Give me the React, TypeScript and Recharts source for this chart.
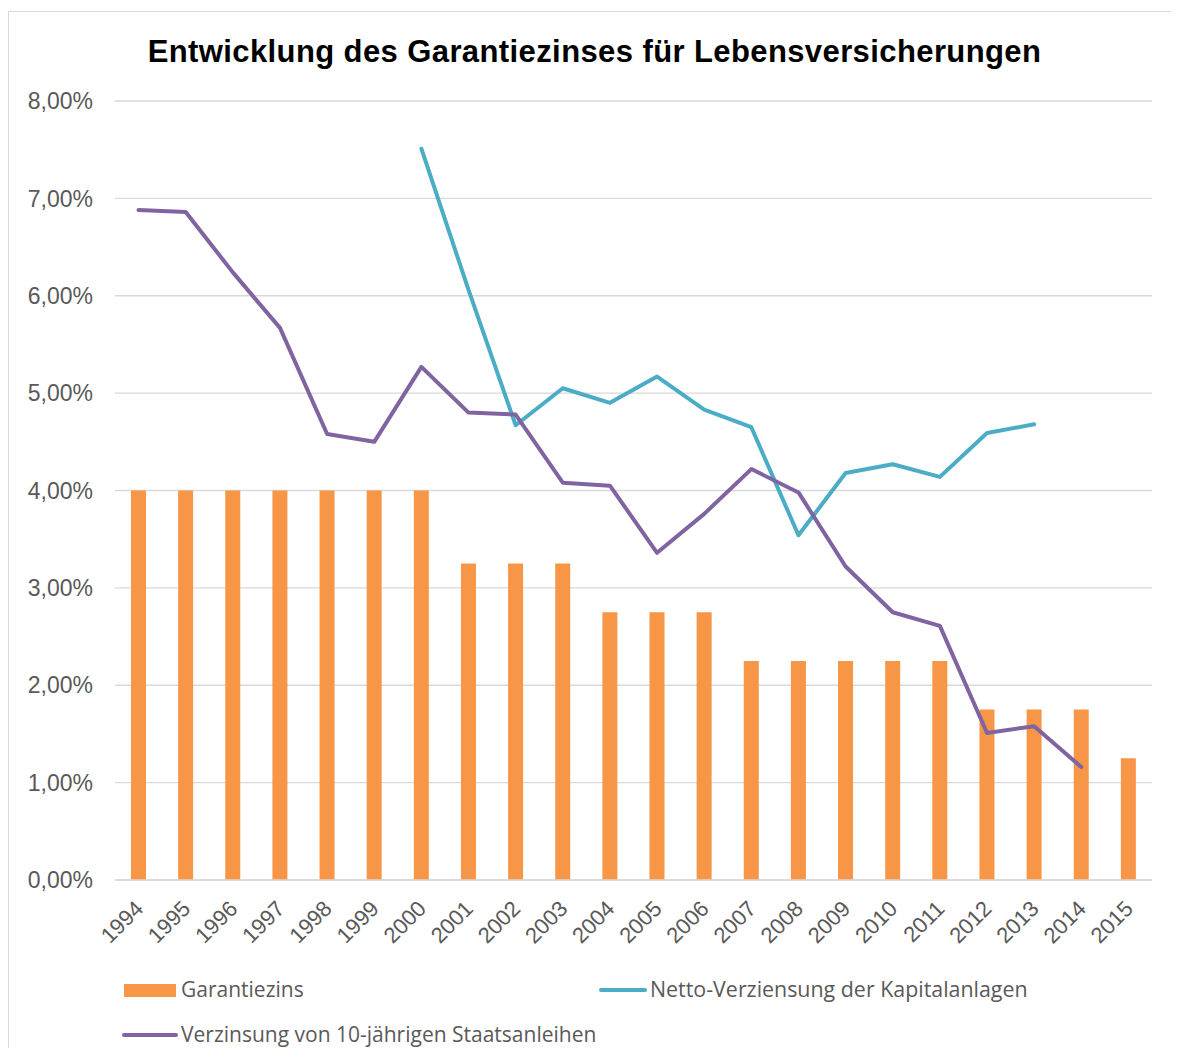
import React from 'react';
import { ComposedChart, Bar, Line, XAxis, YAxis, CartesianGrid, Legend } from 'recharts';

const years = ['1994','1995','1996','1997','1998','1999','2000','2001','2002','2003','2004','2005','2006','2007','2008','2009','2010','2011','2012','2013','2014','2015'];
const garantiezins = [4, 4, 4, 4, 4, 4, 4, 3.25, 3.25, 3.25, 2.75, 2.75, 2.75, 2.25, 2.25, 2.25, 2.25, 2.25, 1.75, 1.75, 1.75, 1.25];
const nettoVerzinsung: (number | null)[] = [null, null, null, null, null, null, 7.51, 6.06, 4.67, 5.05, 4.9, 5.17, 4.83, 4.65, 3.54, 4.18, 4.27, 4.14, 4.59, 4.68, null, null];
const staatsanleihen: (number | null)[] = [6.88, 6.86, 6.24, 5.67, 4.58, 4.5, 5.27, 4.8, 4.78, 4.08, 4.05, 3.36, 3.76, 4.22, 3.98, 3.22, 2.75, 2.61, 1.51, 1.58, 1.16, null];
const yTicks = [0, 1, 2, 3, 4, 5, 6, 7, 8];

const title = 'Entwicklung des Garantiezinses für Lebensversicherungen';
const seriesNames = {
  g: 'Garantiezins',
  n: 'Netto-Verziensung der Kapitalanlagen',
  s: 'Verzinsung von 10-jährigen Staatsanleihen',
};

const data = years.map((y, i) => ({
  year: y,
  g: garantiezins[i],
  n: nettoVerzinsung[i],
  s: staatsanleihen[i],
}));

const ORANGE = '#F79646';
const TEAL = '#4BACC6';
const PURPLE = '#8064A2';
const TEXT = '#595959';
const ARIAL = "'Liberation Sans', Arial, sans-serif";

const fmt = (v: number) => v.toFixed(2).replace('.', ',') + '%';

const XTick = (props: any) => {
  const { x, y, payload } = props;
  const ax = x + 6;
  const ay = y + 22;
  return (
    <text x={ax} y={ay} textAnchor="end" fill={TEXT} fontSize={22} fontFamily={ARIAL} transform={`rotate(-45, ${ax}, ${ay})`}>
      {payload.value}
    </text>
  );
};

const legendFont = "'Open Sans', sans-serif";

const LegendContent = () => {
  const textStyle: React.CSSProperties = { position: 'absolute', fontFamily: legendFont, fontSize: 21, color: TEXT, whiteSpace: 'nowrap', lineHeight: '24px' };
  return (
    <div style={{ position: 'relative', width: 1160, height: 80 }}>
      <div style={{ position: 'absolute', left: 116, top: 13, width: 52, height: 13, background: ORANGE }} />
      <div style={{ ...textStyle, left: 173, top: 6 }}>{seriesNames.g}</div>
      <div style={{ position: 'absolute', left: 591, top: 17, width: 48, height: 4, background: TEAL, borderRadius: 2 }} />
      <div style={{ ...textStyle, left: 642, top: 6, fontSize: 21.4 }}>{seriesNames.n}</div>
      <div style={{ position: 'absolute', left: 114, top: 62, width: 56, height: 4, background: PURPLE, borderRadius: 2 }} />
      <div style={{ ...textStyle, left: 173, top: 51 }}>{seriesNames.s}</div>
    </div>
  );
};

export default function App() {
  return (
    <div style={{ position: 'relative', width: 1163, height: 1040 }}>
      <div style={{ position: 'absolute', left: 0, top: 3, width: 1171, height: 1037, borderTop: '1px solid #d9d9d9', borderLeft: '1px solid #d9d9d9', boxSizing: 'border-box' }} />
      <div style={{ position: 'absolute', left: 0, top: 26, width: 1171, boxSizing: 'border-box', textAlign: 'center', fontFamily: ARIAL, fontWeight: 'bold', fontSize: 31, letterSpacing: 0.4, color: '#000', paddingLeft: 2, lineHeight: 'normal' }}>
        {title}
      </div>
      <div style={{ position: 'absolute', left: 0, top: 3 }}>
        <ComposedChart width={1171} height={1045} data={data} margin={{ top: 90, right: 27, bottom: 96, left: 0 }} barCategoryGap={0}>
          <CartesianGrid vertical={false} stroke="#d9d9d9" strokeWidth={1.3} />
          <XAxis dataKey="year" height={80} tickLine={false} axisLine={{ stroke: '#d9d9d9', strokeWidth: 1.5 }} tick={<XTick />} interval={0} />
          <YAxis width={107} domain={[0, 8]} ticks={yTicks} tickFormatter={fmt} tickLine={false} axisLine={false} tickSize={0} tickMargin={22}
            tick={{ fill: TEXT, fontSize: 23, fontFamily: ARIAL }} />
          <Legend layout="horizontal" verticalAlign="middle" align="center" content={<LegendContent />}
            wrapperStyle={{ position: 'absolute', left: 0, top: 960, width: 1160 }} />
          <Bar dataKey="g" name={seriesNames.g} fill={ORANGE} barSize={15} isAnimationActive={false} />
          <Line dataKey="n" name={seriesNames.n} stroke={TEAL} strokeWidth={4} dot={false} activeDot={false} isAnimationActive={false} strokeLinejoin="round" strokeLinecap="round" />
          <Line dataKey="s" name={seriesNames.s} stroke={PURPLE} strokeWidth={4} dot={false} activeDot={false} isAnimationActive={false} strokeLinejoin="round" strokeLinecap="round" />
        </ComposedChart>
      </div>
    </div>
  );
}
